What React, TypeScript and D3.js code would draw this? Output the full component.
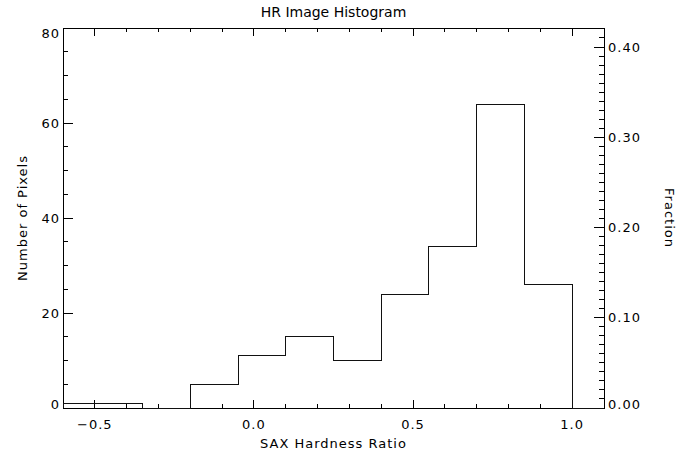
import { useEffect, useRef } from "react";
import * as d3 from "d3";

// histogram bins (left edges, width 0.15) and pixel counts
const binEdges = [-0.5, -0.35, -0.2, -0.05, 0.1, 0.25, 0.4, 0.55, 0.7, 0.85, 1.0];
const counts = [1, 0, 5, 11, 15, 10, 24, 34, 64, 26];
const xTicks = [-0.5, 0.0, 0.5, 1.0];
const yTicks = [0, 20, 40, 60, 80];
const fracTicks = [0, 0.1, 0.2, 0.3, 0.4];

export default function App() {
  const ref = useRef<SVGSVGElement | null>(null);

  useEffect(() => {
    if (!ref.current) return;
    const svg = d3.select(ref.current);
    svg.selectAll("*").remove();

    const width = 696, height = 457;
    const margin = { top: 28, right: 92, bottom: 49, left: 63 };
    const x = d3.scaleLinear().domain([-0.6, 1.1]).range([margin.left, width - margin.right]);
    const y = d3.scaleLinear().domain([0, 80]).range([height - margin.bottom, margin.top]);
    const total = d3.sum(counts);
    const yf = d3.scaleLinear().domain([0, 80 / total]).range([height - margin.bottom, margin.top]);

    const font = "'DejaVu Sans', sans-serif";
    const x0 = margin.left, x1 = width - margin.right;
    const y0 = height - margin.bottom, y1 = margin.top;

    const g = svg.append("g").attr("stroke", "#000").attr("stroke-width", 1).attr("fill", "none")
      .attr("shape-rendering", "crispEdges");

    // frame
    g.append("rect").attr("x", x0).attr("y", y1).attr("width", x1 - x0).attr("height", y0 - y1);

    // x ticks (bottom up, top down)
    const xMinor = d3.range(-6, 12).map(i => i / 10).filter(v => v > -0.6 && v < 1.1);
    xMinor.forEach(v => {
      const major = xTicks.some(t => Math.abs(t - v) < 1e-9);
      const len = major ? 8 : 4;
      g.append("line").attr("x1", x(v)).attr("x2", x(v)).attr("y1", y0).attr("y2", y0 - len);
      g.append("line").attr("x1", x(v)).attr("x2", x(v)).attr("y1", y1).attr("y2", y1 + len);
    });

    // left ticks
    d3.range(0, 81, 5).forEach(v => {
      const len = v % 20 === 0 ? 10 : 5;
      g.append("line").attr("x1", x0).attr("x2", x0 + len).attr("y1", y(v)).attr("y2", y(v));
    });

    // right ticks (fraction)
    d3.range(0, 43).map(i => i / 100).filter(v => yf(v) >= y1).forEach((v, i) => {
      const len = i % 10 === 0 ? 10 : 5;
      g.append("line").attr("x1", x1).attr("x2", x1 - len).attr("y1", yf(v)).attr("y2", yf(v));
    });

    // histogram step line
    const pts: [number, number][] = [[-0.6, 0]];
    counts.forEach((c, i) => {
      pts.push([binEdges[i], c]);
      pts.push([binEdges[i + 1], c]);
    });
    pts.push([1.0, 0], [1.1, 0]);
    const line = d3.line<[number, number]>().x(d => x(d[0])).y(d => y(d[1])).curve(d3.curveStepBefore);
    g.append("path").datum(pts).attr("d", line as any).attr("stroke", "#111");

    const t = svg.append("g").attr("font-family", font).attr("font-size", 13).attr("fill", "#000");
    const clampY = (v: number) => Math.max(y1 + 5, Math.min(y0 - 4, v));

    xTicks.forEach(v => {
      t.append("text").attr("x", x(v)).attr("y", y0 + 21).attr("text-anchor", "middle")
        .attr("letter-spacing", 1)
        .text(v < 0 ? `−${Math.abs(v).toFixed(1)}` : v.toFixed(1));
    });
    yTicks.forEach(v => {
      t.append("text").attr("x", x0 - 3).attr("y", clampY(y(v))).attr("dy", "0.35em")
        .attr("letter-spacing", 1).attr("text-anchor", "end").text(v);
    });
    fracTicks.forEach(v => {
      t.append("text").attr("x", x1 + 4).attr("y", clampY(yf(v))).attr("dy", "0.35em")
        .attr("letter-spacing", 1).text(v.toFixed(2));
    });

    t.append("text").attr("x", (x0 + x1) / 2).attr("y", 17).attr("text-anchor", "middle")
      .attr("font-size", 14).text("HR Image Histogram");
    t.append("text").attr("x", (x0 + x1) / 2).attr("y", 448).attr("text-anchor", "middle")
      .attr("letter-spacing", 1).text("SAX Hardness Ratio");
    t.append("text").attr("transform", `translate(22,${(y0 + y1) / 2}) rotate(-90)`)
      .attr("letter-spacing", 1).attr("text-anchor", "middle").attr("dy", "0.35em").text("Number of Pixels");
    t.append("text").attr("transform", `translate(670,${(y0 + y1) / 2}) rotate(90)`)
      .attr("letter-spacing", 1).attr("text-anchor", "middle").attr("dy", "0.35em").text("Fraction");
  }, []);

  return (
    <svg ref={ref} width={696} height={457}
      style={{ position: "absolute", left: 0, top: 0, background: "#fff" }}
      role="img" aria-label="HR image histogram" />
  );
}
